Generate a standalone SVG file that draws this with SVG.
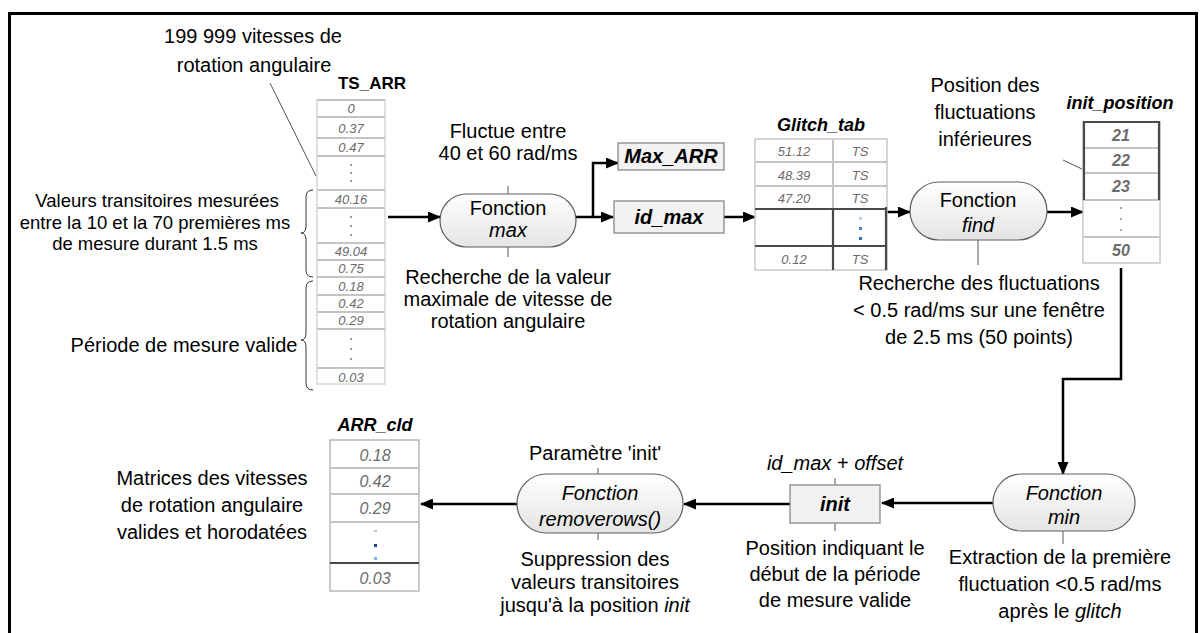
<svg xmlns="http://www.w3.org/2000/svg" width="1204" height="633" viewBox="0 0 1204 633">
<defs>
<style>
text{font-family:"Liberation Sans",Arial,sans-serif;text-anchor:middle;fill:#000}
.t{font-size:20px}
.ts{font-size:18.5px}
.lbl{font-size:18px;font-weight:bold;font-style:italic}
.lblu{font-size:17px;font-weight:bold}
.cell{font-size:13px;font-style:italic;fill:#6b6b6b}
.cellb{font-size:16px;font-style:italic;font-weight:bold;fill:#6b6b6b}
.celln{font-size:16px;font-style:italic;fill:#6b6b6b}
.it{font-style:italic}
.conn{stroke:#000;stroke-width:2.5;fill:none;marker-end:url(#ah)}
.lead{stroke:#555;stroke-width:1;fill:none}
.oval{fill:url(#og);stroke:#5f5f5f;stroke-width:1.2}
.box{fill:#f2f2f2;stroke:#7f7f7f;stroke-width:1.2}
.grid{stroke:#c4c4c4;stroke-width:2;fill:none}
.dark{stroke:#4a4a4a;stroke-width:2.2;fill:none}
.brace{stroke:#333;stroke-width:1;fill:none}
</style>
<linearGradient id="og" x1="0" y1="0" x2="0" y2="1">
<stop offset="0" stop-color="#ffffff"/>
<stop offset="1" stop-color="#e4e4e4"/>
</linearGradient>
<marker id="ah" markerUnits="userSpaceOnUse" markerWidth="13" markerHeight="11" refX="12" refY="5.5" orient="auto">
<path d="M0,0 L13,5.5 L0,11 z" fill="#000"/>
</marker>
</defs>
<rect width="1204" height="633" fill="#fff"/>
<g id="frame">
<path d="M9.5,633 L9.5,13.5 L1196.5,13.5 L1196.5,633" fill="none" stroke="#000" stroke-width="3"/>
</g>

<g id="connectors">
<line class="conn" x1="388" y1="217" x2="440" y2="217"/>
<line class="conn" x1="576" y1="217" x2="613" y2="217"/>
<path class="conn" d="M593,217 L593,163 L618,163"/>
<line class="conn" x1="724" y1="217" x2="755" y2="217"/>
<line class="conn" x1="887" y1="212" x2="910" y2="212"/>
<line class="conn" x1="1047" y1="212" x2="1083" y2="212"/>
<path class="conn" d="M1121,268 L1121,379 L1063,379 L1063,474"/>
<line class="conn" x1="993" y1="503" x2="882" y2="503"/>
<line class="conn" x1="790" y1="504" x2="684" y2="504"/>
<line class="conn" x1="517" y1="504" x2="421" y2="504"/>
<line class="lead" x1="270" y1="83" x2="316" y2="176"/>
<line class="lead" x1="1063" y1="160" x2="1082" y2="169"/>
<line class="lead" x1="508" y1="186" x2="508" y2="194"/>
<line class="lead" x1="508" y1="247" x2="508" y2="257"/>
<line class="lead" x1="978" y1="240" x2="978" y2="265"/>
<line class="lead" x1="1063" y1="531" x2="1063" y2="544"/>
<line class="lead" x1="835" y1="478" x2="835" y2="485"/>
<line class="lead" x1="835" y1="523" x2="835" y2="531"/>
<line class="lead" x1="598" y1="468" x2="598" y2="474"/>
<line class="lead" x1="598" y1="533" x2="598" y2="540"/>
</g>

<g id="label-top">
<text class="t" x="253" y="43" font-size="21">199 999 vitesses de</text>
<text class="t" x="254" y="72" font-size="21">rotation angulaire</text>
</g>

<g id="ts-arr">
<text class="lblu" x="372" y="89">TS_ARR</text>
<rect x="317" y="100" width="68" height="284" fill="#fff" stroke="#d6d6d6" stroke-width="1.5"/>
<path class="grid" d="M317,100 H385 M317,117 H385 M317,138 H385 M317,156 H385 M317,190 H385 M317,208 H385 M317,243 H385 M317,260 H385 M317,277 H385 M317,295 H385 M317,312 H385 M317,329 H385 M317,368 H385"/>
<text class="cell" x="351" y="113" fill="#2a5db0">0</text>
<text class="cell" x="351" y="133">0.37</text>
<text class="cell" x="351" y="152">0.47</text>
<g fill="#9a9a9a"><rect x="350" y="164" width="2" height="2"/><rect x="350" y="172" width="2" height="2"/><rect x="350" y="180" width="2" height="2"/></g>
<text class="cell" x="351" y="204">40.16</text>
<g fill="#9a9a9a"><rect x="350" y="216" width="2" height="2"/><rect x="350" y="225" width="2" height="2"/><rect x="350" y="234" width="2" height="2"/></g>
<text class="cell" x="351" y="256">49.04</text>
<text class="cell" x="351" y="273">0.75</text>
<text class="cell" x="351" y="291">0.18</text>
<text class="cell" x="351" y="308">0.42</text>
<text class="cell" x="351" y="325">0.29</text>
<g fill="#9a9a9a"><rect x="350" y="338" width="2" height="2"/><rect x="350" y="348" width="2" height="2"/><rect x="350" y="358" width="2" height="2"/></g>
<text class="cell" x="351" y="382">0.03</text>
</g>

<g id="label-transitoires">
<path class="brace" d="M313,190 Q306,190 306,197 L306,226 Q306,233 301,233 Q306,233 306,240 L306,270 Q306,277 313,277"/>
<text class="ts" x="157" y="207">Valeurs transitoires mesurées</text>
<text class="ts" x="155" y="229">entre la 10 et la 70 premières ms</text>
<text class="ts" x="155" y="250">de mesure durant 1.5 ms</text>
</g>

<g id="label-valide">
<path class="brace" d="M313,281 Q306,281 306,288 L306,333 Q306,340 301,340 Q306,340 306,347 L306,383 Q306,390 313,390"/>
<text class="t" x="184" y="352" font-size="19">Période de mesure valide</text>
</g>

<g id="fonction-max">
<text class="t" x="508" y="138">Fluctue entre</text>
<text class="t" x="508" y="160">40 et 60 rad/ms</text>
<rect class="oval" x="440" y="194" width="136" height="53" rx="26.5"/>
<text class="t" x="508" y="215" font-size="17">Fonction</text>
<text class="t it" x="508" y="237" font-size="17">max</text>
<text class="t" x="508" y="284">Recherche de la valeur</text>
<text class="t" x="508" y="306">maximale de vitesse de</text>
<text class="t" x="508" y="328">rotation angulaire</text>
</g>

<g id="max-arr">
<rect class="box" x="618" y="143" width="106" height="27"/>
<text class="t it" x="671" y="163" font-size="18" font-weight="bold">Max_ARR</text>
</g>

<g id="id-max">
<rect class="box" x="614" y="201" width="110" height="32"/>
<text class="t it" x="669" y="224" font-size="19" font-weight="bold">id_max</text>
</g>

<g id="glitch-tab">
<text class="lbl" x="821" y="131">Glitch_tab</text>
<rect x="755" y="139" width="132" height="131" fill="#fff" stroke="#c8c8c8" stroke-width="1.5"/>
<path class="grid" d="M755,162 H887 M755,186 H887 M833,139 V209"/>
<path class="dark" d="M755,209 H887 M755,246 H887 M833,209 V270 M886,207 V270"/>
<text class="cell" x="794" y="156" font-size="14">51.12</text>
<text class="cell" x="794" y="180" font-size="14">48.39</text>
<text class="cell" x="794" y="203" font-size="14">47.20</text>
<text class="cell" x="794" y="264" font-size="14">0.12</text>
<text class="cell" x="860" y="156" font-size="14">TS</text>
<text class="cell" x="860" y="180" font-size="14">TS</text>
<text class="cell" x="860" y="203" font-size="14">TS</text>
<text class="cell" x="860" y="264" font-size="14">TS</text>
<rect x="859" y="217" width="3" height="3" fill="#bcd6f0"/>
<rect x="859" y="227" width="3" height="3" fill="#4f81bd"/>
<rect x="859" y="237" width="3" height="3" fill="#2e6cc0"/>
</g>

<g id="fonction-find">
<text class="t" x="985" y="92">Position des</text>
<text class="t" x="985" y="119">fluctuations</text>
<text class="t" x="985" y="146">inférieures</text>
<rect class="oval" x="910" y="182" width="137" height="58" rx="29"/>
<text class="t" x="978" y="207" font-size="19">Fonction</text>
<text class="t it" x="978" y="232" font-size="19">find</text>
<text class="t" x="979" y="290">Recherche des fluctuations</text>
<text class="t" x="979" y="317">&lt; 0.5 rad/ms sur une fenêtre</text>
<text class="t" x="979" y="344">de 2.5 ms (50 points)</text>
</g>

<g id="init-position">
<text class="lbl" x="1120" y="109">init_position</text>
<rect x="1083" y="122" width="77" height="141" fill="#fff" stroke="#c8c8c8" stroke-width="1.5"/>
<path class="grid" d="M1083,148 H1160 M1083,173 H1160 M1083,200 H1160 M1083,237 H1160"/>
<path class="dark" d="M1084,200 V122 H1159 V200"/>
<text class="cellb" x="1121" y="141">21</text>
<text class="cellb" x="1121" y="166">22</text>
<text class="cellb" x="1121" y="192">23</text>
<g fill="#a8a8a8"><rect x="1120" y="207" width="2" height="2"/><rect x="1120" y="218" width="2" height="2"/><rect x="1120" y="229" width="2" height="2"/></g>
<text class="cellb" x="1121" y="256">50</text>
</g>

<g id="fonction-min">
<rect class="oval" x="993" y="474" width="142" height="57" rx="28.5"/>
<text class="t it" x="1064" y="500" font-size="19">Fonction</text>
<text class="t it" x="1064" y="524" font-size="19">min</text>
<text class="t" x="1060" y="564">Extraction de la première</text>
<text class="t" x="1060" y="591">fluctuation &lt;0.5 rad/ms</text>
<text class="t" x="1060" y="618">après le <tspan font-style="italic">glitch</tspan></text>
</g>

<g id="init">
<text class="t" x="835" y="470"><tspan font-style="italic">id_max</tspan> + <tspan font-style="italic">offset</tspan></text>
<rect class="box" x="790" y="485" width="90" height="38"/>
<text class="t it" x="835" y="511" font-size="19" font-weight="bold">init</text>
<text class="t" x="835" y="555">Position indiquant le</text>
<text class="t" x="835" y="581">début de la période</text>
<text class="t" x="835" y="607">de mesure valide</text>
</g>

<g id="fonction-removerows">
<text class="t" x="595" y="460">Paramètre 'init'</text>
<rect class="oval" x="517" y="474" width="166" height="59" rx="29.5"/>
<text class="t it" x="600" y="500" font-size="19">Fonction</text>
<text class="t it" x="600" y="526" font-size="19">removerows()</text>
<text class="t" x="595" y="566">Suppression des</text>
<text class="t" x="595" y="589">valeurs transitoires</text>
<text class="t" x="595" y="612">jusqu'à la position <tspan font-style="italic">init</tspan></text>
</g>

<g id="arr-cld">
<text class="lbl" x="375" y="431">ARR_cld</text>
<rect x="330" y="440" width="89" height="151" fill="#fff" stroke="#b8b8b8" stroke-width="1.5"/>
<path class="grid" d="M330,468 H419 M330,494 H419 M330,522 H419"/>
<path class="dark" d="M330,563 H419"/>
<text class="celln" x="375" y="461">0.18</text>
<text class="celln" x="375" y="487">0.42</text>
<text class="celln" x="375" y="514">0.29</text>
<rect x="374" y="530" width="3" height="2" fill="#c9b9c9"/>
<rect x="374" y="544" width="3" height="3" fill="#1f3f9f"/>
<rect x="374" y="557" width="3" height="3" fill="#7fb3e0"/>
<text class="celln" x="375" y="584">0.03</text>
</g>

<g id="label-matrices">
<text class="t" x="212" y="485" font-size="20.5">Matrices des vitesses</text>
<text class="t" x="212" y="512" font-size="20.5">de rotation angulaire</text>
<text class="t" x="212" y="539" font-size="20.5">valides et horodatées</text>
</g>
</svg>
